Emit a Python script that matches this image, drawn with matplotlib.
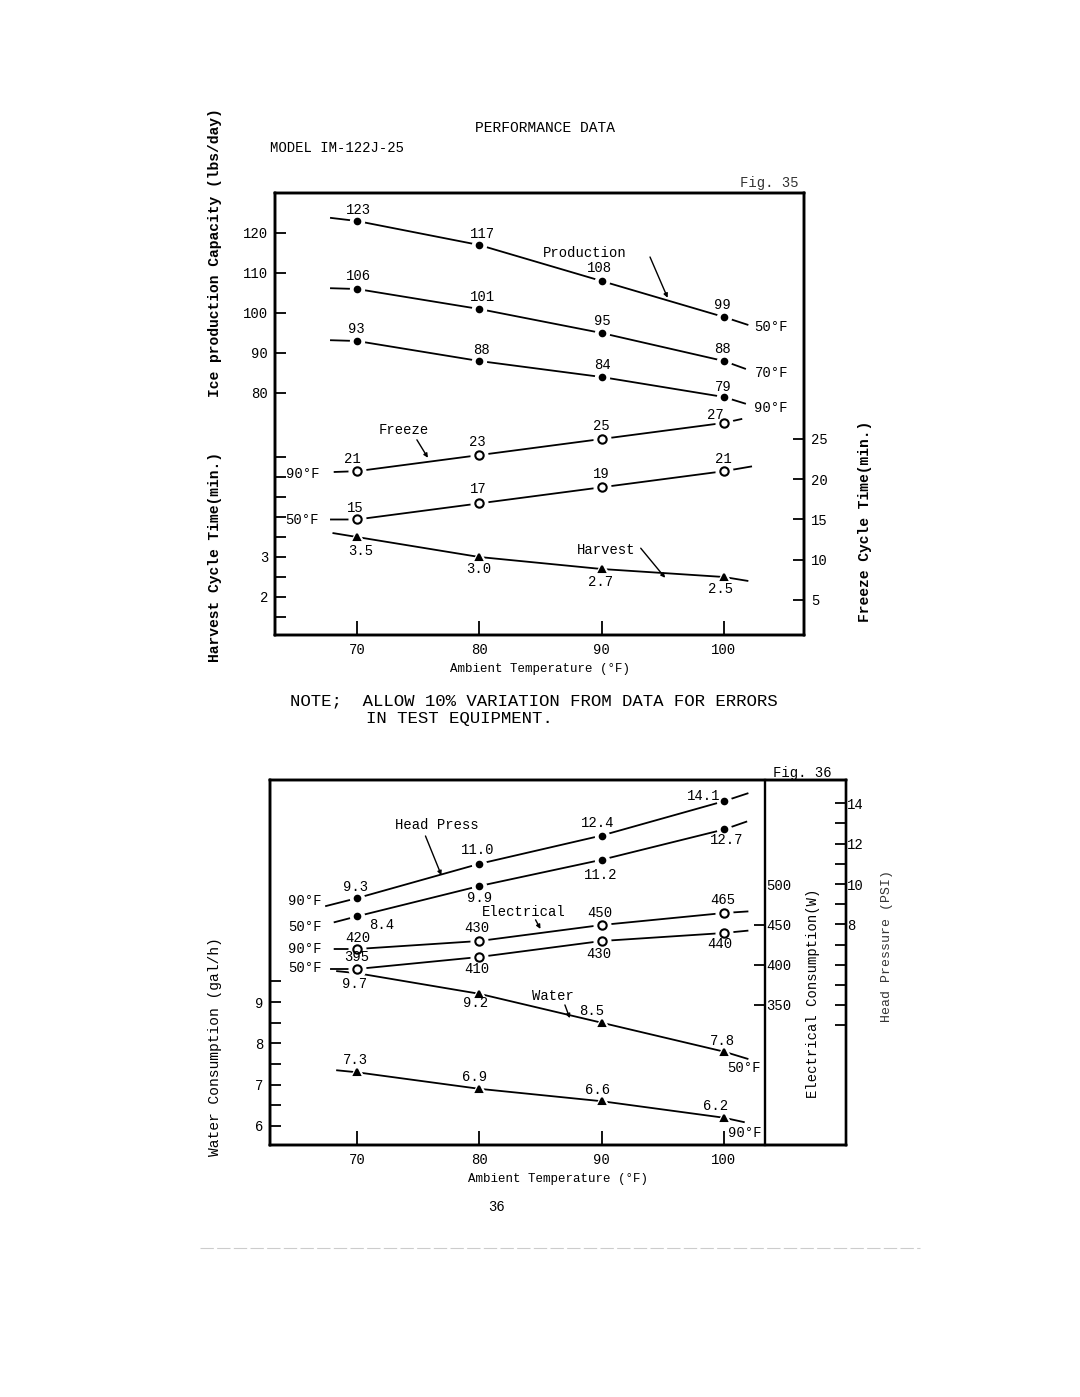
import matplotlib
matplotlib.use("Agg")
import matplotlib.pyplot as plt

plt.rcParams['font.family'] = ['Liberation Mono', 'DejaVu Sans Mono']

W, H = 1080, 1397

temps = [70, 80, 90, 100]

# Fig. 35 - ice production (lbs/day) at water temp 50/70/90 F
prod_50 = [123, 117, 108, 99]
prod_70 = [106, 101, 95, 88]
prod_90 = [93, 88, 84, 79]
# freeze cycle (min) and harvest cycle (min)
freeze_90 = [21, 23, 25, 27]
freeze_50 = [15, 17, 19, 21]
harvest = [3.5, 3.0, 2.7, 2.5]

# Fig. 36 - head pressure, electrical (W), water (gal/h)
head_90 = [9.3, 11.0, 12.4, 14.1]
head_50 = [8.4, 9.9, 11.2, 12.7]
elec_90 = [420, 430, 450, 465]
elec_50 = [395, 410, 430, 440]
water_50 = [9.7, 9.2, 8.5, 7.8]
water_90 = [7.3, 6.9, 6.6, 6.2]

# where the hand drawn lines begin and end
prod_50_ends = ([67.8, 102.0], [123.8, 97.0])
prod_70_ends = ([67.8, 101.8], [106.2, 86.0])
prod_90_ends = ([67.8, 101.8], [93.2, 77.3])
freeze_90_ends = ([68.1, 101.5], [20.9, 27.5])
freeze_50_ends = ([67.8, 102.3], [15.0, 21.6])
harvest_ends = ([68.0, 102.0], [3.6, 2.4])
head_90_ends = ([67.4, 102.0], [8.9, 14.5])
head_50_ends = ([68.1, 101.9], [8.1, 13.1])
elec_90_ends = ([68.1, 102.0], [420, 467])
elec_50_ends = ([67.8, 102.0], [395, 443])
water_50_ends = ([68.3, 102.0], [9.75, 7.62])
water_90_ends = ([68.3, 101.7], [7.35, 6.09])


def curve(ax, y, ends, marker, ms, filled=True):
    xs = [ends[0][0]] + temps + [ends[0][1]]
    ys = [ends[1][0]] + list(y) + [ends[1][1]]
    ax.plot(xs, ys, color='k', lw=1.3, zorder=2, solid_capstyle='butt')
    ax.plot(temps, y, ls='none', marker=marker, ms=ms + 6, color='white',
            zorder=3)
    ax.plot(temps, y, ls='none', marker=marker, ms=ms,
            mfc='k' if filled else 'white', mec='k', mew=1.5, zorder=4)


def values(ax, y, offs, fs=10):
    for t, v, (dx, dy) in zip(temps, y, offs):
        lab = str(v)
        ax.annotate(lab, (t, v), xytext=(dx, dy), textcoords='offset pixels',
                    ha='center', va='center', fontsize=fs, zorder=5)


def pointer(ax, start, end):
    ax.annotate('', xy=end, xytext=start,
                arrowprops=dict(arrowstyle='-|>', lw=1.0, color='k',
                                mutation_scale=6, shrinkA=0, shrinkB=0))


def frac(x, y):
    return x / W, 1 - y / H


fig = plt.figure(figsize=(W / 100, H / 100), dpi=100)

# ---------------- Fig. 35 ----------------
ax1 = fig.add_axes([275 / W, 1 - 635 / H, 529 / W, 442 / H])
ax1.set_xlim(63.3, 106.55)
ax1.set_ylim(19.5, 130)
axh = ax1.twinx()
axh.set_ylim(1.05, 12.1)
axf = ax1.twinx()
axf.set_ylim(0.65, 55.56)

for a in (ax1, axh, axf):
    for s in a.spines.values():
        s.set_linewidth(1.7)

ax1.set_xticks(temps)
ax1.tick_params(axis='x', direction='in', length=10, width=1.3,
                labelsize=10, pad=6)
ax1.set_yticks([80, 90, 100, 110, 120])
ax1.tick_params(axis='y', direction='in', length=8, width=1.3,
                labelsize=10, pad=5)
axh.yaxis.tick_left()
axh.set_yticks([1.5, 2, 2.5, 3, 3.5, 4, 4.5, 5, 5.5])
axh.set_yticklabels(['', '2', '', '3', '', '', '', '', ''])
axh.tick_params(axis='y', direction='in', length=8, width=1.3,
                labelsize=10, pad=5)
axf.set_yticks([5, 10, 15, 20, 25])
axf.tick_params(axis='y', direction='in', length=8, width=1.3,
                labelsize=10, pad=5)
ax1.set_xlabel('Ambient Temperature (°F)', fontsize=9, labelpad=4)

curve(ax1, prod_50, prod_50_ends, 'o', 4)
curve(ax1, prod_70, prod_70_ends, 'o', 4)
curve(ax1, prod_90, prod_90_ends, 'o', 4)
curve(axf, freeze_90, freeze_90_ends, 'o', 6, filled=False)
curve(axf, freeze_50, freeze_50_ends, 'o', 6, filled=False)
curve(axh, harvest, harvest_ends, '^', 5)

values(ax1, prod_50, [(2, 11), (3, 11), (-2, 13), (-2, 12)])
values(ax1, prod_70, [(2, 13), (3, 12), (1, 12), (-1, 12)])
values(ax1, prod_90, [(-1, 12), (2, 11), (1, 12), (-1, 10)])
values(axf, freeze_90, [(-5, 12), (-2, 13), (0, 13), (-9, 8)])
values(axf, freeze_50, [(-2, 11), (-1, 14), (0, 13), (-1, 12)])
values(axh, harvest, [(4, -14), (-1, -12), (-1, -13), (-3, -12)])

ax1.text(102.5, 96.5, '50°F', fontsize=10, va='center')
ax1.text(102.5, 85.0, '70°F', fontsize=10, va='center')
ax1.text(102.5, 76.25, '90°F', fontsize=10, va='center')
ax1.text(66.9, 59.75, '90°F', fontsize=10, va='center', ha='right')
ax1.text(66.9, 48.25, '50°F', fontsize=10, va='center', ha='right')

ax1.text(88.6, 115.0, 'Production', fontsize=10, va='center', ha='center')
pointer(ax1, (93.96, 114.0), (95.4, 103.8))
ax1.text(73.8, 70.75, 'Freeze', fontsize=10, va='center', ha='center')
pointer(ax1, (74.9, 68.3), (75.8, 63.8))
ax1.text(90.4, 40.75, 'Harvest', fontsize=10, va='center', ha='center')
pointer(ax1, (93.2, 41.2), (95.2, 33.8))

# ---------------- Fig. 36 ----------------
ax2 = fig.add_axes([270 / W, 1 - 1145 / H, 576 / W, 365 / H])
ax2.set_xlim(62.89, 109.98)
ax2.set_ylim(5.54, 14.375)
axe = ax2.twinx()
axe.set_ylim(175, 631.25)
axp = ax2.twinx()
axp.set_ylim(-2.92, 15.15)

for a in (ax2, axe, axp):
    for s in a.spines.values():
        s.set_linewidth(1.7)
axe.spines['right'].set_position(('axes', (765 - 270) / 576))

ax2.set_xticks(temps)
ax2.tick_params(axis='x', direction='in', length=10, width=1.3,
                labelsize=10, pad=6)
ax2.set_yticks([6, 6.5, 7, 7.5, 8, 8.5, 9, 9.5])
ax2.set_yticklabels(['6', '', '7', '', '8', '', '9', ''])
ax2.tick_params(axis='y', direction='in', length=8, width=1.3,
                labelsize=10, pad=5)
axe.set_yticks([350, 400, 450, 500])
axe.tick_params(axis='y', direction='in', length=8, width=1.3,
                labelsize=10, pad=1)
axe.yaxis.get_major_ticks()[-1].tick2line.set_visible(False)
axp.set_yticks(list(range(3, 15)))
axp.set_yticklabels([str(v) if v in (8, 10, 12, 14) else ''
                     for v in range(3, 15)])
axp.tick_params(axis='y', direction='in', length=8, width=1.3,
                labelsize=10, pad=1)
ax2.set_xlabel('Ambient Temperature (°F)', fontsize=9, labelpad=4)

curve(axp, head_90, head_90_ends, 'o', 4)
curve(axp, head_50, head_50_ends, 'o', 4)
curve(axe, elec_90, elec_90_ends, 'o', 6, filled=False)
curve(axe, elec_50, elec_50_ends, 'o', 6, filled=False)
curve(ax2, water_50, water_50_ends, '^', 5)
curve(ax2, water_90, water_90_ends, '^', 5)

values(axp, head_90, [(-1, 11), (-2, 14), (-4, 13), (-20, 5)])
values(axp, head_50, [(25, -9), (0, -12), (-1, -15), (3, -11)])
values(axe, elec_90, [(1, 11), (-2, 13), (-2, 12), (-1, 13)])
values(axe, elec_50, [(0, 12), (-2, -12), (-3, -13), (-4, -11)])
values(ax2, water_50, [(-2, -11), (-4, -9), (-10, 12), (-1, 11)])
values(ax2, water_90, [(-2, 12), (-5, 12), (-4, 11), (-8, 12)])

ax2.text(67.1, 11.445, '90°F', fontsize=10, va='center', ha='right')
ax2.text(67.1, 10.816, '50°F', fontsize=10, va='center', ha='right')
ax2.text(67.1, 10.283, '90°F', fontsize=10, va='center', ha='right')
ax2.text(67.1, 9.823, '50°F', fontsize=10, va='center', ha='right')
ax2.text(100.3, 7.40, '50°F', fontsize=10, va='center')
ax2.text(100.3, 5.83, '90°F', fontsize=10, va='center')

ax2.text(76.5, 13.29, 'Head Press', fontsize=10, va='center', ha='center')
pointer(ax2, (75.6, 13.02), (76.9, 12.07))
ax2.text(83.6, 11.18, 'Electrical', fontsize=10, va='center', ha='center')
pointer(ax2, (84.6, 10.99), (85.0, 10.77))
ax2.text(86.0, 9.145, 'Water', fontsize=10, va='center', ha='center')
pointer(ax2, (87.0, 8.93), (87.4, 8.61))

# ---------------- page text ----------------
fig.text(*frac(545, 128), 'PERFORMANCE DATA', fontsize=10.5,
         ha='center', va='center')
fig.text(*frac(270, 148), 'MODEL IM-122J-25', fontsize=10,
         ha='left', va='center')
fig.text(*frac(740, 183), 'Fig. 35', fontsize=10, ha='left', va='center',
         color='#333333')
fig.text(*frac(773, 773), 'Fig. 36', fontsize=10, ha='left', va='center')
fig.text(*frac(290, 701), 'NOTE;  ALLOW 10% VARIATION FROM DATA FOR ERRORS',
         fontsize=12.5, ha='left', va='center')
fig.text(*frac(366, 718), 'IN TEST EQUIPMENT.', fontsize=12.5,
         ha='left', va='center')
fig.text(*frac(497, 1207), '36', fontsize=10, ha='center', va='center')

fig.text(*frac(215, 253), 'Ice production Capacity (lbs/day)', fontsize=10.5,
         rotation=90, ha='center', va='center', fontweight='bold')
fig.text(*frac(215, 557), 'Harvest Cycle Time(min.)', fontsize=10.5,
         rotation=90, ha='center', va='center', fontweight='bold')
fig.text(*frac(865, 521), 'Freeze Cycle Time(min.)', fontsize=10.5,
         rotation=90, ha='center', va='center', fontweight='bold')
fig.text(*frac(215, 1047), 'Water Consumption (gal/h)', fontsize=10.5,
         rotation=90, ha='center', va='center')
fig.text(*frac(813, 993), 'Electrical Consumption(W)', fontsize=10,
         rotation=90, ha='center', va='center')
fig.text(*frac(887, 946), 'Head Pressure (PSI)', fontsize=9.5,
         rotation=90, ha='center', va='center', color='#333333')

# faint scan edge at the foot of the page
fig.add_artist(plt.Line2D([200 / W, 920 / W], [1 - 1248 / H, 1 - 1248 / H],
                          color='#cccccc', lw=0.8, ls=(0, (12, 3))))

fig.savefig('out.png', dpi=100, facecolor='white')
